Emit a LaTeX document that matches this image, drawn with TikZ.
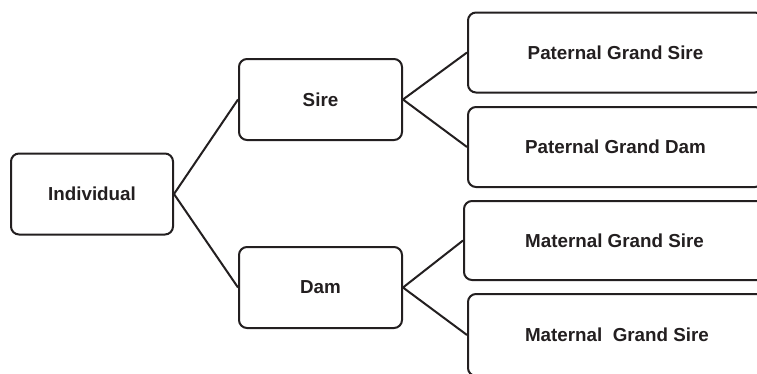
\documentclass[tikz,border=0pt]{standalone}
\usepackage{fontspec}
\setmainfont{Liberation Sans}
\definecolor{ink}{HTML}{231F20}
\begin{document}
\begin{tikzpicture}[x=1pt,y=1pt,
  box/.style={draw=ink, line width=2pt, rounded corners=8pt, fill=white,
    inner sep=0pt, font=\fontsize{18.8}{22}\selectfont\bfseries, text=ink},
  link/.style={draw=ink, line width=2pt}]
\clip (0,0) rectangle (757,-373);
\fill[white] (0,0) rectangle (757,-373);
\node[box, minimum width=162pt, minimum height=81pt] (ind) at (92,-194) {Individual};
\node[box, minimum width=163pt, minimum height=81pt] (sire) at (320.5,-99.5) {Sire};
\node[box, minimum width=163pt, minimum height=81pt] (dam) at (320.5,-287.5) {Dam};
\node[box, minimum width=295pt, minimum height=80pt] (pgs) at (615.5,-52.5) {Paternal Grand Sire};
\node[box, minimum width=295pt, minimum height=80pt] (pgd) at (615.5,-147) {Paternal Grand Dam};
\node[box, minimum width=311pt, minimum height=79pt] (mgs) at (619.5,-240.5) {Maternal Grand Sire\hspace*{10pt}};
\node[box, minimum width=307pt, minimum height=82pt] (mgd) at (621.5,-335) {Maternal\ \ Grand Sire\hspace*{9pt}};
\draw[link] (sire.west) -- (ind.east) -- (dam.west);
\draw[link] (pgs.west) -- (sire.east) -- (pgd.west);
\draw[link] (mgs.west) -- (dam.east) -- (mgd.west);
\end{tikzpicture}
\end{document}
